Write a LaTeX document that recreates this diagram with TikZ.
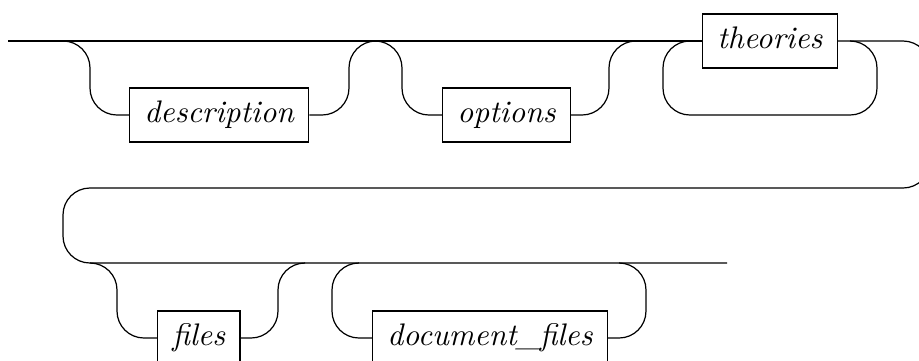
\documentclass[tikz,border=0pt]{standalone}
\usepackage{amsmath}
\usepackage{tikz}
\usetikzlibrary{positioning, calc}

\begin{document}
\begin{tikzpicture}[x=0.33pt,y=-0.33pt,line width=0.4pt,draw=black!100]

	\def \rowa{41}
	\def \rowb{263}
	\tikzstyle{nt-node}=[draw,anchor=west,text height=7pt,text depth=2pt,inner xsep=4.9pt,minimum height=17.8pt,font=\fontsize{10.3}{12}\selectfont\itshape]
	\tikzstyle{rail}=[rounded corners=8.9pt]
	\useasboundingbox (0,0) rectangle (919,360);

	% junctions
	\coordinate (start) at (8,\rowa);
	\coordinate (ja1) at (63,\rowa);
	\coordinate (ja2) at (376,\rowa);
	\coordinate (ja3) at (636,\rowa);
	\coordinate (ja4) at (690,\rowa);
	\coordinate (ja5) at (850,\rowa);
	\coordinate (jb0) at (90,\rowb);
	\coordinate (jb1) at (305,\rowb);
	\coordinate (jb2) at (358,\rowb);
	\coordinate (jb3) at (620,\rowb);
	\coordinate (end) at (727,\rowb);

	% first row
	\node[nt-node] 	(desc)	at (129,115)		{description};
	\node[nt-node] 	(opts)	at (442,115)		{options};
	\node[nt-node] 	(theo)	at (702,\rowa)		{theories};
	\draw (start) -- (theo.west);
	\draw[rail] (ja1) -- (90,\rowa) -- (90,115) -- (desc.west);
	\draw[rail] (desc.east) -- (349,115) -- (349,\rowa) -- (ja2);
	\draw[rail] (ja2) -- (402,\rowa) -- (402,115) -- (opts.west);
	\draw[rail] (opts.east) -- (609,115) -- (609,\rowa) -- (ja3);
	\draw[rail] (ja4) -- (663,\rowa) -- (663,115) -- (877,115) -- (877,\rowa) -- (ja5);

	% wrap to second row
	\draw[rail] (theo.east) -- (930,\rowa) -- (930,188) -- (63,188) -- (63,\rowb) -- (end);

	% second row
	\node[nt-node] 	(files)	at (157,338)		{files};
	\node[nt-node] 	(docf)	at (372,338)		{document\_files};
	\draw[rail] (jb0) -- (117,\rowb) -- (117,338) -- (files.west);
	\draw[rail] (files.east) -- (278,338) -- (278,\rowb) -- (jb1);
	\draw[rail] (jb2) -- (332,\rowb) -- (332,338) -- (docf.west);
	\draw[rail] (docf.east) -- (646,338) -- (646,\rowb) -- (jb3);
	\end{tikzpicture}
\end{document}
